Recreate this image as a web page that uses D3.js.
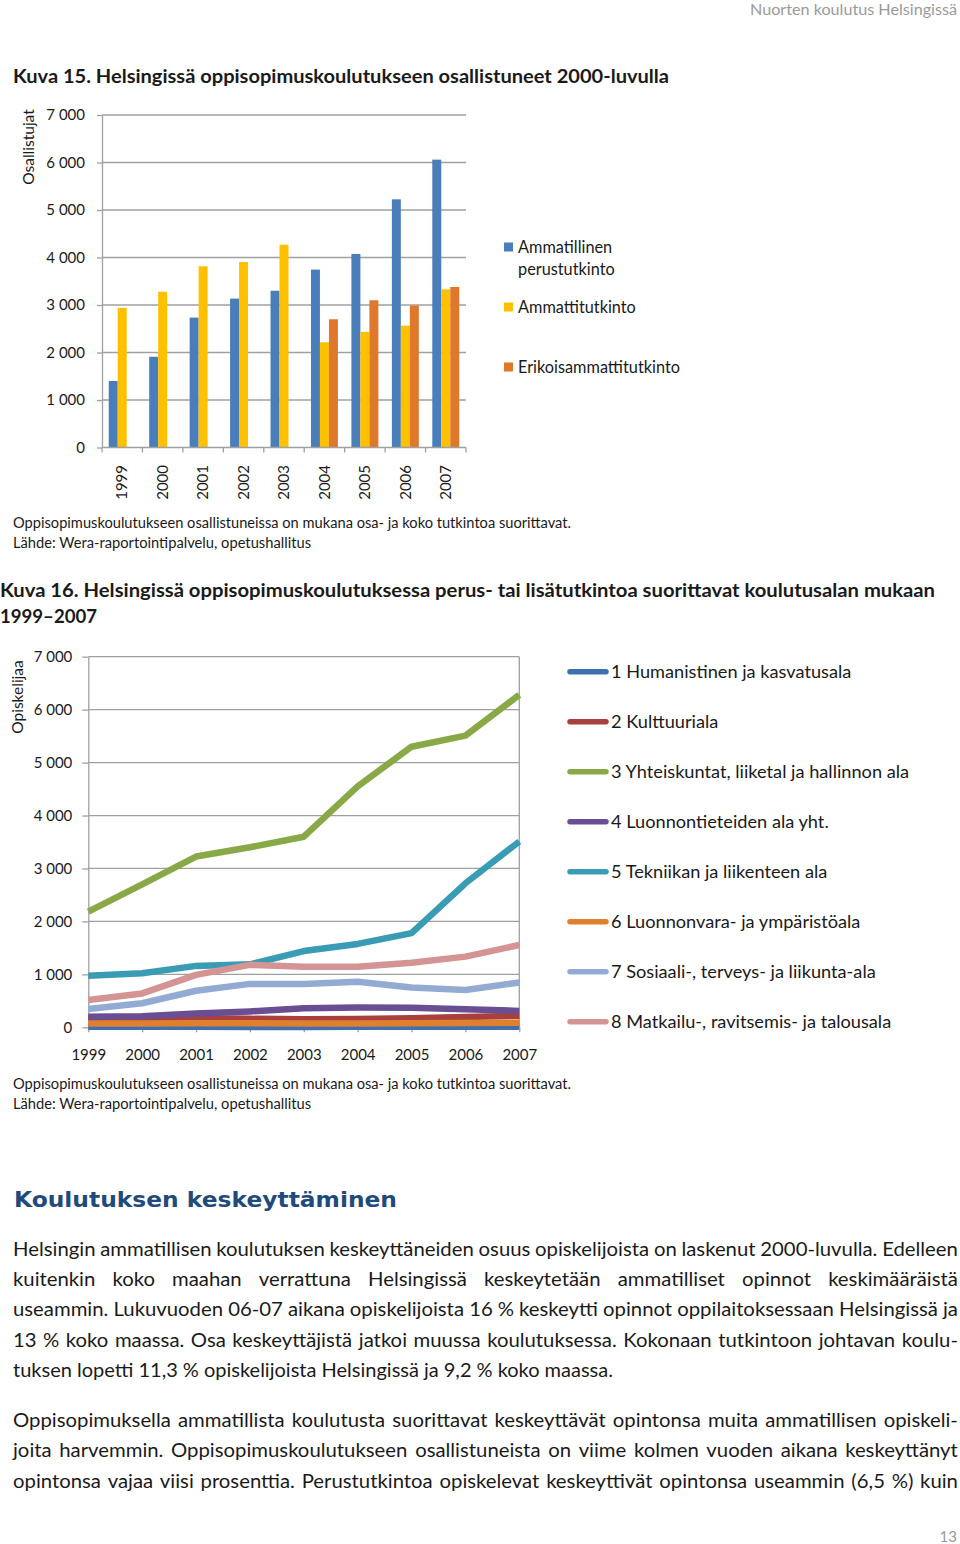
<!DOCTYPE html>
<html><head><meta charset="utf-8">
<script src="https://cdn.jsdelivr.net/npm/d3@7"></script>
<style>
html,body{margin:0;padding:0;background:#fff;}
svg{display:block;}
text{font-family:Lato,"Open Sans",sans-serif;}
</style></head>
<body>
<svg id="page" width="960" height="1544"></svg>
<script>
// ---------- DATA ----------
const years = ["1999","2000","2001","2002","2003","2004","2005","2006","2007"];
const yTicks = [0,1000,2000,3000,4000,5000,6000,7000];

// Kuva 15
const barSeriesNames = ["Ammatillinen perustutkinto","Ammattitutkinto","Erikoisammattitutkinto"];
const perustutkinto = [1400,1910,2735,3135,3300,3745,4075,5225,6060];
const ammattitutkinto = [2940,3280,3815,3905,4270,2215,2435,2565,3330];
const erikoisammattitutkinto = [null,null,null,null,null,2700,3100,2990,3380];
const barColors = ["#4A7EBB","#FFC000","#E0782B"];

// Kuva 16
const lineSeriesNames = [
  "1 Humanistinen ja kasvatusala",
  "2 Kulttuuriala",
  "3 Yhteiskuntat, liiketal ja hallinnon ala",
  "4 Luonnontieteiden ala yht.",
  "5 Tekniikan ja liikenteen ala",
  "6 Luonnonvara- ja ympäristöala",
  "7 Sosiaali-, terveys- ja liikunta-ala",
  "8 Matkailu-, ravitsemis- ja talousala"
];
const humanistinen = [10,10,10,5,5,10,10,10,10];
const kulttuuri = [170,180,170,160,150,155,170,195,220];
const yhteiskunta = [2185,2700,3225,3400,3600,4550,5300,5510,6280];
const luonnontiede = [200,210,260,300,360,375,370,340,310];
const tekniikka = [975,1020,1160,1190,1440,1575,1780,2720,3510];
const luonnonvara = [70,70,75,75,70,70,75,80,85];
const sosiaali = [345,455,690,820,820,860,750,705,845];
const matkailu = [515,640,990,1180,1145,1145,1220,1335,1555];
const lineColors = ["#3F6FAD","#A8413E","#89A948","#6A4E93","#3A9BB5","#E0802F","#93ABD3","#D49494"];

// Texts
const header = "Nuorten koulutus Helsingissä";
const title15 = "Kuva 15. Helsingissä oppisopimuskoulutukseen osallistuneet 2000-luvulla";
const yTitle15 = "Osallistujat";
const title16a = "Kuva 16. Helsingissä oppisopimuskoulutuksessa perus- tai lisätutkintoa suorittavat koulutusalan mukaan";
const title16b = "1999–2007";
const yTitle16 = "Opiskelijaa";
const note1 = "Oppisopimuskoulutukseen osallistuneissa on mukana osa- ja koko tutkintoa suorittavat.";
const note2 = "Lähde: Wera-raportointipalvelu, opetushallitus";
const heading = "Koulutuksen keskeyttäminen";
const para1 = [
  "Helsingin ammatillisen koulutuksen keskeyttäneiden osuus opiskelijoista on laskenut 2000-luvulla. Edelleen",
  "kuitenkin koko maahan verrattuna Helsingissä keskeytetään ammatilliset opinnot keskimääräistä",
  "useammin. Lukuvuoden 06-07 aikana opiskelijoista 16 % keskeytti opinnot oppilaitoksessaan Helsingissä ja",
  "13 % koko maassa. Osa keskeyttäjistä jatkoi muussa koulutuksessa. Kokonaan tutkintoon johtavan koulu-",
  "tuksen lopetti 11,3 % opiskelijoista Helsingissä ja 9,2 % koko maassa."
];
const para2 = [
  "Oppisopimuksella ammatillista koulutusta suorittavat keskeyttävät opintonsa muita ammatillisen opiskeli-",
  "joita harvemmin. Oppisopimuskoulutukseen osallistuneista on viime kolmen vuoden aikana keskeyttänyt",
  "opintonsa vajaa viisi prosenttia. Perustutkintoa opiskelevat keskeyttivät opintonsa useammin (6,5 %) kuin"
];
const pageNo = "13";

// ---------- HELPERS ----------
const svg = d3.select("#page");
svg.append("rect").attr("width",960).attr("height",1544).attr("fill","#fff");
const fiLocale = d3.formatLocale({decimal:",", thousands:"\u00a0", grouping:[3], currency:["",""]});
const fmt = fiLocale.format(",");
const grid = "#A0A0A0";
const txt = "#1a1a1a";

function label(x, y, s, o = {}) {
  const t = svg.append("text")
    .attr("x", x).attr("y", y).attr("dy", "0.35em")
    .attr("font-size", o.size || 15)
    .attr("font-weight", o.weight || "normal")
    .attr("fill", o.fill || txt)
    .attr("text-anchor", o.anchor || "start")
    .text(s);
  if (o.family) t.style("font-family", o.family);
  if (o.len) t.attr("textLength", o.len).attr("lengthAdjust", "spacingAndGlyphs");
  return t;
}

// ---------- HEADER ----------
label(957, 10, header, {size:15.5, fill:"#9a9a9a", anchor:"end", len:207});
label(957, 1537, pageNo, {size:15, fill:"#9a9a9a", anchor:"end"});

// ---------- KUVA 15 ----------
label(13, 76, title15, {size:19.5, weight:"bold", len:656});
svg.append("text").attr("transform","translate(29,147) rotate(-90)")
  .attr("text-anchor","middle").attr("dy","0.35em").attr("font-size",15.5).attr("fill",txt).text(yTitle15);

const x15 = d3.scaleBand().domain(years).range([102,466]).paddingInner(1/3).paddingOuter(1/6);
const xIn = d3.scaleBand().domain([0,1,2]).range([0, x15.bandwidth()]);
const y15 = d3.scaleLinear().domain([0,7000]).range([447.5,115]);

const g15 = svg.append("g");
g15.selectAll("line.grid").data(yTicks.filter(d=>d>0)).join("line")
  .attr("x1",102).attr("x2",466).attr("y1",d=>y15(d)).attr("y2",d=>y15(d))
  .attr("stroke",grid).attr("stroke-width",1.3);

const barData = [perustutkinto, ammattitutkinto, erikoisammattitutkinto];
barData.forEach((arr, si) => {
  g15.selectAll("rect.s"+si).data(arr.map((v,i)=>({v, year:years[i]})).filter(d=>d.v!=null)).join("rect")
    .attr("class","s"+si)
    .attr("x", d => x15(d.year) + xIn(si))
    .attr("width", xIn.bandwidth())
    .attr("y", d => y15(d.v))
    .attr("height", d => y15(0) - y15(d.v))
    .attr("fill", barColors[si]);
});

const ax15 = g15.append("g").attr("transform","translate(102,0)")
  .call(d3.axisLeft(y15).tickValues(yTicks).tickFormat(fmt).tickSize(5).tickSizeOuter(0).tickPadding(12));
ax15.select(".domain").attr("stroke",grid).attr("stroke-width",1.3);
ax15.selectAll(".tick line").attr("stroke",grid).attr("stroke-width",1.3);
ax15.selectAll(".tick text").attr("font-size",15).attr("fill",txt).style("font-family","Lato");

// baseline + boundary ticks
g15.append("line").attr("x1",102).attr("x2",466).attr("y1",y15(0)).attr("y2",y15(0))
  .attr("stroke",grid).attr("stroke-width",1.3);
const step15 = x15.step();
const bounds15 = years.map(y => x15(y) - step15*x15.paddingInner()/2).concat([x15(years[years.length-1]) + x15.bandwidth() + step15*x15.paddingInner()/2]);
g15.selectAll("line.xt").data(bounds15).join("line")
  .attr("x1",d=>d).attr("x2",d=>d).attr("y1",y15(0)).attr("y2",y15(0)+5)
  .attr("stroke",grid).attr("stroke-width",1.3);
g15.selectAll("text.xl").data(years).join("text")
  .attr("transform", d => `translate(${x15(d)+x15.bandwidth()/2},465) rotate(-90)`)
  .attr("text-anchor","end").attr("dy","0.35em").attr("font-size",15).attr("fill",txt).text(d=>d);

// legend 15
const leg15 = [[0,247,["Ammatillinen","perustutkinto"]],[1,307,["Ammattitutkinto"]],[2,367,["Erikoisammattitutkinto"]]];
leg15.forEach(([i,yc,lines]) => {
  svg.append("rect").attr("x",504).attr("y",yc-4.5).attr("width",9).attr("height",9).attr("fill",barColors[i]);
  lines.forEach((l,k) => label(518, yc + k*22, l, {size:16.3}));
});

label(13, 523, note1, {size:14.5, len:558});
label(13, 543, note2, {size:14.5, len:298});

// ---------- KUVA 16 ----------
label(0, 590, title16a, {size:19.5, weight:"bold", len:935});
label(0, 616, title16b, {size:19.5, weight:"bold", len:97});
svg.append("text").attr("transform","translate(18,697) rotate(-90)")
  .attr("text-anchor","middle").attr("dy","0.35em").attr("font-size",15.5).attr("fill",txt).text(yTitle16);

const x16 = d3.scalePoint().domain(years).range([88.3,519.3]);
const y16 = d3.scaleLinear().domain([0,7000]).range([1027.3,656.7]);
const g16 = svg.append("g");
g16.selectAll("line.grid").data(yTicks.filter(d=>d>0)).join("line")
  .attr("x1",88.3).attr("x2",519.3).attr("y1",d=>y16(d)).attr("y2",d=>y16(d))
  .attr("stroke",grid).attr("stroke-width",1.3);
g16.append("line").attr("x1",519.3).attr("x2",519.3).attr("y1",y16(7000)).attr("y2",y16(0))
  .attr("stroke",grid).attr("stroke-width",1.3);

const ax16 = g16.append("g").attr("transform","translate(88.3,0)")
  .call(d3.axisLeft(y16).tickValues(yTicks).tickFormat(fmt).tickSize(6).tickSizeOuter(0).tickPadding(10));
ax16.select(".domain").attr("stroke",grid).attr("stroke-width",1.3);
ax16.selectAll(".tick line").attr("stroke",grid).attr("stroke-width",1.3);
ax16.selectAll(".tick text").attr("font-size",15).attr("fill",txt).style("font-family","Lato");

const bx16 = g16.append("g").attr("transform",`translate(0,${y16(0)})`)
  .call(d3.axisBottom(x16).tickSize(5).tickSizeOuter(0).tickPadding(17));
bx16.select(".domain").attr("stroke",grid).attr("stroke-width",1.3);
bx16.selectAll(".tick line").attr("stroke",grid).attr("stroke-width",1.3);
bx16.selectAll(".tick text").attr("font-size",15).attr("fill",txt).style("font-family","Lato");

const lineData = [humanistinen,kulttuuri,yhteiskunta,luonnontiede,tekniikka,luonnonvara,sosiaali,matkailu];
const lineGen = d3.line().x((d,i)=>x16(years[i])).y(d=>y16(d));
g16.selectAll("path.ser").data(lineData).join("path")
  .attr("class","ser")
  .attr("d", d => lineGen(d))
  .attr("fill","none")
  .attr("stroke",(d,i)=>lineColors[i])
  .attr("stroke-width",6.5)
  .attr("stroke-linejoin","round")
  .attr("stroke-linecap","butt");

// legend 16
lineSeriesNames.forEach((n,i) => {
  const yc = 671.7 + i*50;
  svg.append("line").attr("x1",570).attr("x2",606).attr("y1",yc).attr("y2",yc)
    .attr("stroke",lineColors[i]).attr("stroke-width",5.5).attr("stroke-linecap","round");
  const t = label(611, yc, n, {size:16.7});
  const w = t.node().getComputedTextLength();
  t.attr("textLength", w*1.09).attr("lengthAdjust","spacingAndGlyphs");
});

label(13, 1084, note1, {size:14.5, len:558});
label(13, 1104, note2, {size:14.5, len:298});

// ---------- BODY TEXT ----------
label(14, 1199, heading, {size:22, weight:"bold", fill:"#1F4A7C", family:"'DejaVu Sans',Verdana,sans-serif", len:383});

const K = 1.07; // glyph width factor (Calibri-like proportions)
function bodyLine(s, y, x0, target, justify, size) {
  const g = svg.append("g");
  const words = s.split(" ");
  const nodes = words.map(w => g.append("text").attr("y", y).attr("dy","0.35em")
    .attr("font-size", size).attr("fill", txt).text(w));
  const widths = nodes.map(n => n.node().getComputedTextLength());
  const W = d3.sum(widths);
  const sp = size * 0.25;
  const n = words.length - 1;
  const T = target / K;
  const natural = W + n*sp;
  let gap = sp, sx = K;
  if (justify) {
    gap = (T - W) / n;
    if (gap < sp*0.8) { gap = sp; sx = target / natural; }
  } else {
    sx = target / natural;
  }
  let cx = 0;
  nodes.forEach((nd,i) => { nd.attr("x", cx); cx += widths[i] + gap; });
  g.attr("transform", `translate(${x0},0) scale(${sx},1)`);
}
const p1y = [1249,1279,1309.5,1340,1370];
para1.forEach((l,i) => bodyLine(l, p1y[i], 13, i===para1.length-1 ? 600 : 945, i!==para1.length-1, 19));
const p2y = [1420,1450,1481];
para2.forEach((l,i) => bodyLine(l, p2y[i], 13, 945, true, 19));
</script>
</body></html>
